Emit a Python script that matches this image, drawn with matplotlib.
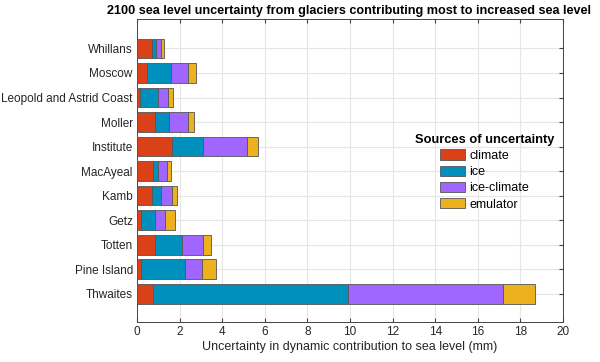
import numpy as np
import matplotlib.pyplot as plt

plt.rcParams["font.family"] = ["Liberation Sans", "DejaVu Sans"]

# bottom to top
glaciers = ["Thwaites", "Pine Island", "Totten", "Getz", "Kamb", "MacAyeal",
            "Institute", "Moller", "Leopold and Astrid Coast", "Moscow", "Whillans"]
climate = [0.74, 0.19, 0.86, 0.20, 0.69, 0.77, 1.64, 0.86, 0.14, 0.48, 0.69]
ice = [9.18, 2.05, 1.27, 0.65, 0.44, 0.22, 1.47, 0.64, 0.83, 1.10, 0.19]
ice_climate = [7.28, 0.81, 0.97, 0.48, 0.51, 0.42, 2.07, 0.88, 0.47, 0.81, 0.25]
emulator = [1.50, 0.64, 0.39, 0.45, 0.25, 0.17, 0.52, 0.30, 0.24, 0.39, 0.15]

sources = ["climate", "ice", "ice-climate", "emulator"]
colors = ["#DA4119", "#0090BE", "#A066FF", "#EDB120"]

fig = plt.figure(figsize=(6, 3.62), dpi=100)
ax = fig.add_axes([0.2283, 0.1105, 0.71, 0.837])

y = np.arange(1, len(glaciers) + 1)
left = np.zeros(len(glaciers))
for vals, name, c in zip([climate, ice, ice_climate, emulator], sources, colors):
    ax.barh(y, vals, left=left, height=0.8, color=c, edgecolor="#555555",
            linewidth=0.6, label=name, zorder=3)
    left += np.array(vals)

ax.set_xlim(0, 20)
ax.set_ylim(-0.15, 12.2)
ax.set_xticks(np.arange(0, 21, 2))
ax.set_yticks(y)
ax.set_yticklabels(glaciers)
ax.tick_params(labelsize=8.5, direction="in", top=True, right=True,
               length=3, color="#444444", labelcolor="#262626", pad=3)
ax.grid(True, color="#e6e6e6", linewidth=0.8, zorder=0)
for s in ax.spines.values():
    s.set_color("#444444")
    s.set_linewidth(0.7)

ax.set_xlabel("Uncertainty in dynamic contribution to sea level (mm)", fontsize=9,
              labelpad=2, color="#262626")

# title centred a bit left of the axes centre, sized to ~486 px wide
title = fig.text(349 / 600, 1 - 11 / 362,
                 "2100 sea level uncertainty from glaciers contributing most to increased sea level",
                 ha="center", va="center", fontsize=9.5, fontweight="bold")
r = fig.canvas.get_renderer()
w = title.get_window_extent(r).width
title.set_fontsize(9.5 * 486 / w)

leg = ax.legend(title="Sources of uncertainty", loc="center right",
                bbox_to_anchor=(1.0, 0.495), frameon=False, fontsize=9,
                handlelength=2.0, handleheight=0.9, labelspacing=0.3,
                handletextpad=0.3, borderaxespad=0.3)
leg.get_title().set_fontweight("bold")
leg.get_title().set_fontsize(9.3)

fig.savefig("out.png", dpi=100)
